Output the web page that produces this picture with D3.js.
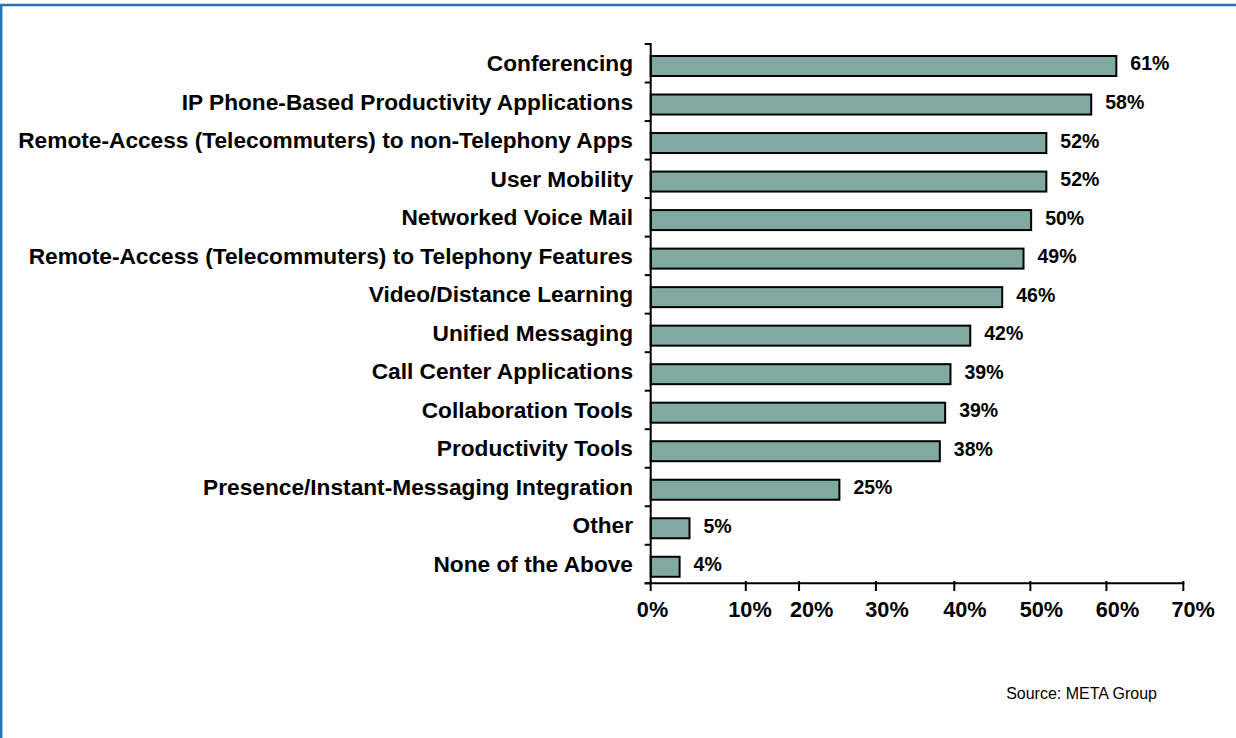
<!DOCTYPE html>
<html>
<head>
<meta charset="utf-8">
<script src="https://cdn.jsdelivr.net/npm/d3@7"></script>
<style>
  html, body { margin: 0; padding: 0; background: #ffffff; }
  svg { display: block; }
</style>
</head>
<body>
<svg id="chart" width="1236" height="738"></svg>
<script>
const categories = [
  "Conferencing",
  "IP Phone-Based Productivity Applications",
  "Remote-Access (Telecommuters) to non-Telephony Apps",
  "User Mobility",
  "Networked Voice Mail",
  "Remote-Access (Telecommuters) to Telephony Features",
  "Video/Distance Learning",
  "Unified Messaging",
  "Call Center Applications",
  "Collaboration Tools",
  "Productivity Tools",
  "Presence/Instant-Messaging Integration",
  "Other",
  "None of the Above"
];
const values = [61.2, 57.9, 52, 52, 50, 49, 46.2, 42, 39.4, 38.7, 38, 24.8, 5.1, 3.8];
const valueLabels = ["61%", "58%", "52%", "52%", "50%", "49%", "46%", "42%", "39%", "39%", "38%", "25%", "5%", "4%"];
// x-axis tick marks (in % units, as placed in the original) and their labels
const tickValues = [0, 12.5, 19.5, 29.6, 39.9, 49.9, 59.9, 70];
const tickLabels = ["0%", "10%", "20%", "30%", "40%", "50%", "60%", "70%"];
const tickLabelValues = [0.24, 13.05, 21.16, 31.06, 41.3, 51.36, 61.35, 71.3];
const sourceText = "Source: META Group";

const svg = d3.select("#chart");
const FONT = "'Liberation Sans', Arial, Helvetica, sans-serif";

// frame
svg.append("line").attr("x1", 0).attr("x2", 1236).attr("y1", 5).attr("y2", 5)
  .attr("stroke", "#2a72b8").attr("stroke-width", 2.5);
svg.append("line").attr("x1", 1.2).attr("x2", 1.2).attr("y1", 4).attr("y2", 738)
  .attr("stroke", "#2a72b8").attr("stroke-width", 2.5);

const x = d3.scaleLinear().domain([0, 70]).range([650.7, 1183.3]);
const y = d3.scaleBand().domain(categories).range([44, 583.3]);
const step = y.step();

// bars
svg.append("g").selectAll("rect").data(values).join("rect")
  .attr("x", x(0))
  .attr("y", (d, i) => y(categories[i]) + 12)
  .attr("width", d => x(d) - x(0))
  .attr("height", 20)
  .attr("fill", "#7fa9a1")
  .attr("stroke", "#000")
  .attr("stroke-width", 2);

// value labels
svg.append("g").selectAll("text").data(values).join("text")
  .attr("x", d => x(d) + 14)
  .attr("y", (d, i) => y(categories[i]) + step / 2)
  .attr("dy", "0.37em")
  .attr("font-family", FONT).attr("font-weight", "bold").attr("font-size", 19.5)
  .attr("fill", "#000")
  .text((d, i) => valueLabels[i]);

// category labels
svg.append("g").selectAll("text").data(categories).join("text")
  .attr("x", 633)
  .attr("y", d => y(d) + step / 2)
  .attr("dy", "0.35em")
  .attr("text-anchor", "end")
  .attr("font-family", FONT).attr("font-weight", "bold").attr("font-size", 22.7)
  .attr("fill", "#000")
  .text(d => d);

// y axis
const yAxisG = svg.append("g");
yAxisG.append("line").attr("x1", x(0)).attr("x2", x(0)).attr("y1", 43).attr("y2", 584)
  .attr("stroke", "#000").attr("stroke-width", 2);
const yTicks = d3.range(categories.length + 1).map(i => 44 + i * step);
yAxisG.selectAll("line.t").data(yTicks).join("line").attr("class", "t")
  .attr("x1", x(0) - 6).attr("x2", x(0)).attr("y1", d => d).attr("y2", d => d)
  .attr("stroke", "#000").attr("stroke-width", 2);

// x axis
const xAxisG = svg.append("g");
xAxisG.append("line").attr("x1", x(0) - 6).attr("x2", x(70) + 1).attr("y1", 583.3).attr("y2", 583.3)
  .attr("stroke", "#000").attr("stroke-width", 2);
xAxisG.selectAll("line.t").data(tickValues).join("line").attr("class", "t")
  .attr("x1", d => x(d)).attr("x2", d => x(d)).attr("y1", 581).attr("y2", 591)
  .attr("stroke", "#000").attr("stroke-width", 2);
xAxisG.selectAll("text").data(tickLabels).join("text")
  .attr("x", (d, i) => x(tickLabelValues[i]))
  .attr("y", 617)
  .attr("text-anchor", "middle")
  .attr("font-family", FONT).attr("font-weight", "bold").attr("font-size", 21.7)
  .attr("fill", "#000")
  .text(d => d);

// source
svg.append("text")
  .attr("x", 1157).attr("y", 699)
  .attr("text-anchor", "end")
  .attr("font-family", FONT).attr("font-size", 16)
  .attr("fill", "#000")
  .text(sourceText);
</script>
</body>
</html>
